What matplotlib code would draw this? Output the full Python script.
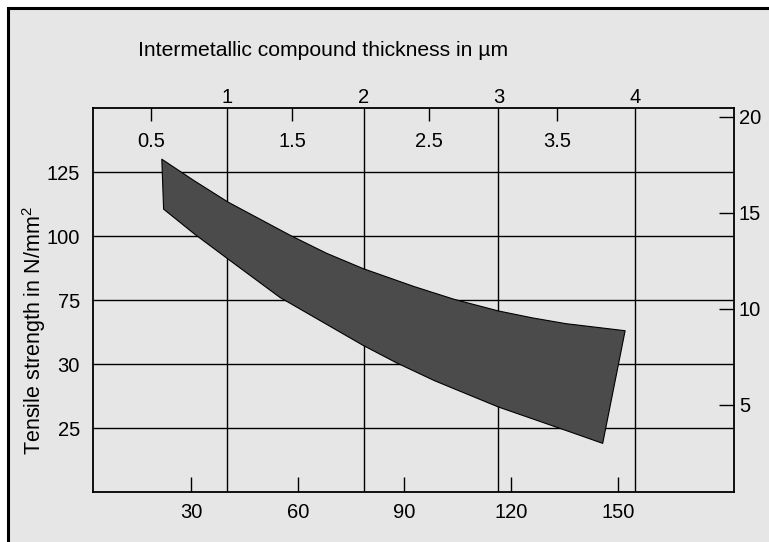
import numpy as np
import matplotlib
matplotlib.use("Agg")
import matplotlib.pyplot as plt
from matplotlib.patches import Rectangle

plt.rcParams['font.family'] = ['Liberation Sans', 'DejaVu Sans']
plt.rcParams['mathtext.fontset'] = 'custom'
plt.rcParams['mathtext.rm'] = 'Liberation Sans'
plt.rcParams['mathtext.it'] = 'Liberation Sans'

# bottom axis (time) and left axis (strength)
time_ticks = [30, 60, 90, 120, 150]
strength_pos = [1, 2, 3, 4, 5]
strength_labels = ['25', '30', '75', '100', '125']

# top axis: intermetallic thickness in um, placed on the time scale
thick_major_pos = [40.2, 78.5, 116.4, 154.7]
thick_major_labels = ['1', '2', '3', '4']
thick_minor_pos = [18.8, 58.5, 97.0, 132.8]
thick_minor_labels = ['0.5', '1.5', '2.5', '3.5']

# right axis
right_ticks = [5, 10, 15, 20]

# band edges
upper_x = [21.8, 31.0, 40.4, 57.9, 68.1, 78.4, 92.7, 104.0, 116.3, 126.0, 135.4, 152.0]
upper_y = [5.20, 4.86, 4.53, 4.01, 3.73, 3.49, 3.21, 3.01, 2.83, 2.72, 2.63, 2.52]
lower_x = [22.3, 31.0, 40.4, 55.0, 78.4, 87.7, 98.4, 116.3, 137.0, 145.7]
lower_y = [4.42, 4.03, 3.64, 3.04, 2.29, 2.02, 1.74, 1.33, 0.93, 0.76]

W, H = 769, 542
fig = plt.figure(figsize=(W / 100, H / 100), dpi=100, facecolor='white')

# outer frame (only top and left edges visible)
frame = Rectangle((8 / W, -0.1), 1.2, 1.1 - 8 / H, transform=fig.transFigure,
                  facecolor='#e6e6e6', edgecolor='black', linewidth=2.2, zorder=-10)
fig.patches.append(frame)

ax = fig.add_axes([93 / W, 1 - 492 / H, 641 / W, 384 / H])
ax.set_facecolor('none')
ax.set_xlim(2.46, 182.6)
ax.set_ylim(0, 6)

for s in ax.spines.values():
    s.set_linewidth(1.3)
    s.set_color('black')

ax.set_axisbelow(True)
ax.grid(axis='y', color='black', linewidth=1.0)
ax.vlines(thick_major_pos, 0, 6, color='black', linewidth=1.0, zorder=1)

xs = np.concatenate([upper_x, lower_x[::-1]])
ys = np.concatenate([upper_y, lower_y[::-1]])
ax.fill(xs, ys, facecolor='#4b4b4b', edgecolor='black', linewidth=0.8,
        joinstyle='round', zorder=3)

ax.set_xticks(time_ticks)
ax.set_xticklabels([str(t) for t in time_ticks])
ax.tick_params(axis='x', direction='in', length=10.8, width=1.0, pad=8,
               labelsize=14.5)
ax.set_yticks(strength_pos)
ax.set_yticklabels(strength_labels)
ax.tick_params(axis='y', length=0, pad=9.4, labelsize=14.5)

# top axis
axt = ax.twiny()
axt.set_xlim(ax.get_xlim())
axt.set_xticks(thick_major_pos)
axt.set_xticklabels(thick_major_labels)
axt.set_xticks(thick_minor_pos, minor=True)
axt.set_xticklabels(thick_minor_labels, minor=True)
axt.tick_params(axis='x', which='major', length=0, pad=0.5, labelsize=14.5)
axt.tick_params(axis='x', which='minor', direction='in', length=9.4,
                width=1.0, pad=-31, labelsize=14.5)
for s in axt.spines.values():
    s.set_visible(False)

# right axis
axr = ax.twinx()
axr.set_ylim(0.467, 20.467)
axr.set_yticks(right_ticks)
axr.set_yticklabels([str(t) for t in right_ticks])
axr.tick_params(axis='y', direction='in', length=10.8, width=1.0, pad=3.6,
                labelsize=14.5)
for s in axr.spines.values():
    s.set_visible(False)

fig.text(138 / W, 1 - 50 / H, 'Intermetallic compound thickness in µm',
         ha='left', va='center', fontsize=15.2)
fig.text(34 / W, 1 - 331 / H, 'Tensile strength in N/mm$^2$',
         ha='center', va='center', rotation=90, fontsize=15.5)

fig.savefig('out.png', dpi=100, facecolor='white')
